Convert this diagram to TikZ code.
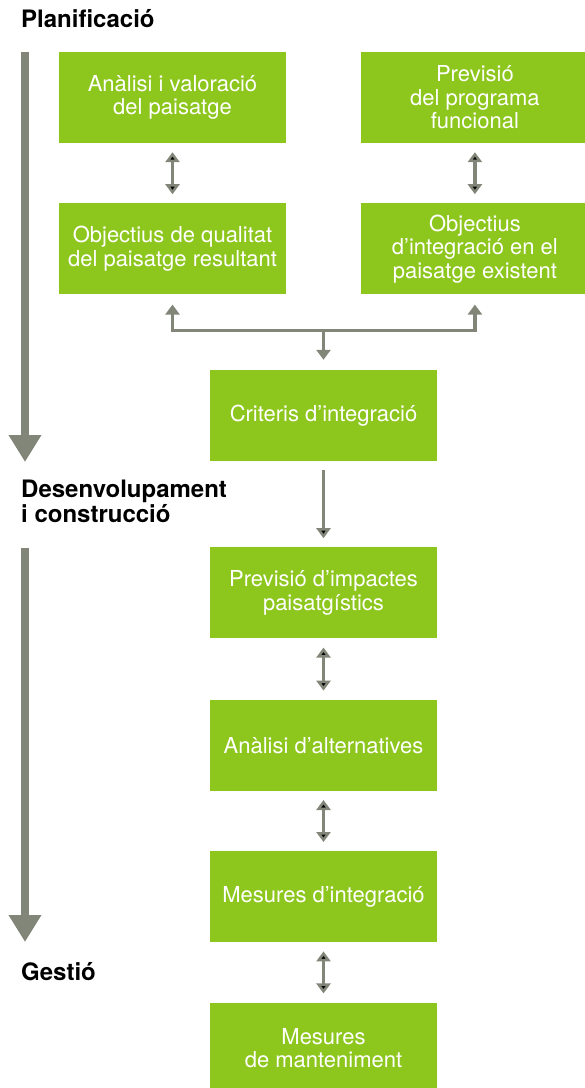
\documentclass[tikz,border=0pt]{standalone}
\usepackage{fontspec}
\setmainfont{TeX Gyre Heros}
\usepackage{tikz}
\usetikzlibrary{arrows.meta,positioning}
\definecolor{boxgreen}{RGB}{141,198,29}
\definecolor{arrowgray}{RGB}{129,134,120}

\begin{document}
\begin{tikzpicture}[
                    x=1pt, y=1pt,
                    >={Triangle[width=14pt,length=10pt]},
                    node distance = 60pt and 75pt,
                    box/.style = {fill=boxgreen, text=white, minimum width=227pt, minimum height=91pt,
                                  inner sep=0pt, align=center, font=\fontsize{22}{23.5}\selectfont},
                    link/.style = {draw=arrowgray, line width=3.2pt, shorten > = 9pt, shorten < = 9pt},
                    phase/.style = {anchor=base west, inner sep=0pt, align=left,
                                    font=\fontsize{24}{22}\selectfont\bfseries},
                    timeline/.style = {draw=arrowgray, line width=8pt, -{Triangle[width=31pt,length=27pt]}}
                    ]
\useasboundingbox (0,0) rectangle (585,-1088);

% phases
\node[phase] (planif) at (21,-27)  {Planificació};
\node[phase] (desenv) at (21,-522) {Desenvolupament\\i construcció};
\node[phase] (gestio) at (21,-980) {Gestió};

\coordinate (planif top) at (25,-52);
\coordinate (planif end) at (25,-462);
\coordinate (desenv top) at (25,-548);
\coordinate (desenv end) at (25,-942);

\draw[timeline] (planif top) -- (planif end);
\draw[timeline] (desenv top) -- (desenv end);

% boxes
\node[box] (analisi) at (172.5,-97.5) {Anàlisi i valoració\\del paisatge};
\node[box, right=of analisi]  (programa) {Previsió\\del programa\\funcional};
\node[box, below=of analisi]  (qualitat) {Objectius de qualitat\\del paisatge resultant};
\node[box, below=of programa] (existent) {Objectius\\d’integració en el\\paisatge existent};

\node[box] (criteris) at (323.5,-415.5) {Criteris d’integració};
\node[box, below=86pt of criteris]     (impactes)     {Previsió d’impactes\\paisatgístics};
\node[box, below=61pt of impactes]     (alternatives) {Anàlisi d’alternatives};
\node[box, below=of alternatives]      (mesures)      {Mesures d’integració};
\node[box, below=of mesures]           (manteniment)  {Mesures\\de manteniment};

\coordinate[above=39pt of criteris] (fork);

\path[link,<->]
    (analisi)      edge (qualitat)
    (programa)     edge (existent)
    (impactes)     edge (alternatives)
    (alternatives) edge (mesures)
    (mesures)      edge (manteniment);
\path[link,->]
    (criteris)     edge (impactes);

\draw[link,<->, shorten < = 10pt, shorten > = 10pt] (qualitat) |- (fork) -| (existent);
\draw[link,->, shorten < = 0pt, shorten > = 10pt]   (fork) -- (criteris);
\end{tikzpicture}
\end{document}
